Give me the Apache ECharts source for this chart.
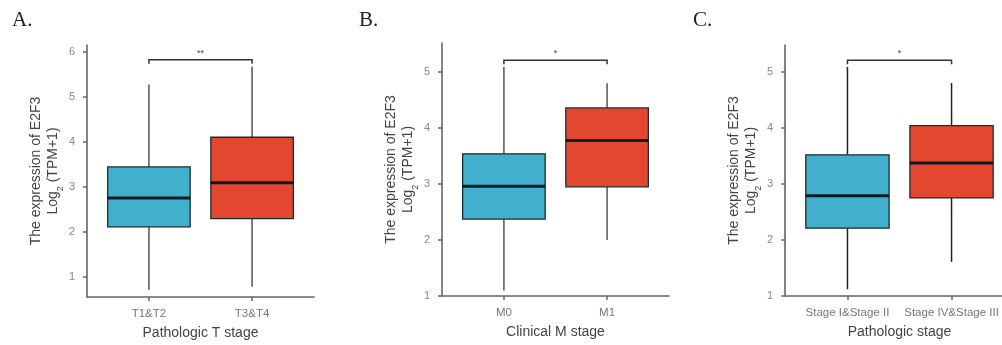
<!DOCTYPE html>
<html>
<head>
<meta charset="utf-8">
<script src="https://cdn.jsdelivr.net/npm/echarts@6/dist/echarts.min.js"></script>
<style>html,body{margin:0;padding:0;background:#fff;}#chart{width:1002px;height:345px;}</style>
</head>
<body>
<div id="chart"></div>
<script>
// ---- data ----
const panelLabels = ['A.', 'B.', 'C.'];
const categoriesA = ['T1&T2', 'T3&T4'];
const categoriesB = ['M0', 'M1'];
const categoriesC = ['Stage I&Stage II', 'Stage IV&Stage III'];
const xTitles = ['Pathologic T stage', 'Clinical M stage', 'Pathologic stage'];
// [lower whisker, Q1, median, Q3, upper whisker]
const boxesA = [[0.71, 2.11, 2.75, 3.44, 5.27], [0.78, 2.29, 3.09, 4.10, 5.67]];
const boxesB = [[1.10, 2.375, 2.96, 3.54, 5.09], [2.00, 2.95, 3.78, 4.36, 4.80]];
const boxesC = [[1.12, 2.21, 2.79, 3.52, 5.09], [1.61, 2.75, 3.375, 4.04, 4.80]];
const sigLevels = [5.82, 5.21, 5.21];
const sigLabels = ['**', '*', '*'];
const yTicksA = [1, 2, 3, 4, 5, 6];
const yTicksB = [1, 2, 3, 4, 5];
const yTicksC = [1, 2, 3, 4, 5];
const yRanges = [[0.55, 6.15], [1.0, 5.52], [1.0, 5.48]];

// ---- styling ----
const boxColors = ['#41B0CC', '#E4472F'];
const sans = 'Liberation Sans, Arial, sans-serif';
const grids = [
  {left: 87, top: 45, width: 227, height: 252, outerBoundsMode: 'none', containLabel: false},
  {left: 442, top: 43, width: 227, height: 253, outerBoundsMode: 'none', containLabel: false},
  {left: 785, top: 45, width: 229, height: 251, outerBoundsMode: 'none', containLabel: false}
];
const nameGaps = [25, 24, 25];
const cats = [categoriesA, categoriesB, categoriesC];
const boxes = [boxesA, boxesB, boxesC];
const yTicks = [yTicksA, yTicksB, yTicksC];
const whiskerColors = ['#555', '#555', '#222'];

const xAxes = [], yAxes = [], series = [], graphics = [];
const gx = [12, 359, 693];
for (let i = 0; i < 3; i++) {
  const c = cats[i];
  xAxes.push({
    type: 'value', gridIndex: i, min: 0.4, max: 2.6,
    axisLine: {show: true, onZero: false, lineStyle: {color: '#666', width: 1.6}},
    axisTick: {show: true, length: 4, customValues: [1, 2], lineStyle: {color: '#666', width: 1.5}},
    axisLabel: {customValues: [1, 2], margin: 11, color: '#777', fontSize: 11.5, fontFamily: sans,
      formatter: v => c[Math.round(v) - 1] || ''},
    splitLine: {show: false},
    name: xTitles[i], nameLocation: 'middle', nameGap: 29,
    nameTextStyle: {color: '#444', fontSize: 14, fontFamily: sans}
  });
  yAxes.push({
    type: 'value', gridIndex: i, min: yRanges[i][0], max: yRanges[i][1],
    axisLine: {show: true, lineStyle: {color: '#666', width: 1.6}},
    axisTick: {show: true, length: 4, customValues: yTicks[i], lineStyle: {color: '#666', width: 1.5}},
    axisLabel: {customValues: yTicks[i], margin: 12, color: '#888', fontSize: 11, fontFamily: sans},
    splitLine: {show: false},
    name: '{a|The expression of E2F3}\n{a|Log}{s|2}{a| (TPM+1)}',
    nameLocation: 'middle', nameRotate: 90, nameGap: nameGaps[i],
    nameTextStyle: {
      color: '#444', fontFamily: sans, lineHeight: 17,
      rich: {
        a: {fontSize: 14, color: '#444', fontFamily: sans, lineHeight: 17},
        s: {fontSize: 9, color: '#444', fontFamily: sans, verticalAlign: 'bottom', lineHeight: 12, padding: [0, 0, -3, 0]}
      }
    }
  });
  const bx = boxes[i];
  series.push({
    type: 'custom', xAxisIndex: i, yAxisIndex: i,
    data: bx.map((b, k) => [k + 1, b[0], b[1], b[2], b[3], b[4]]),
    encode: {x: 0, y: [1, 2, 3, 4, 5]},
    renderItem: (params, api) => {
      const x = api.value(0);
      const lo = api.coord([x, api.value(1)]);
      const q1 = api.coord([x, api.value(2)]);
      const md = api.coord([x, api.value(3)]);
      const q3 = api.coord([x, api.value(4)]);
      const hi = api.coord([x, api.value(5)]);
      const hw = api.size([0.8, 0])[0] / 2;
      const wc = whiskerColors[i];
      return {
        type: 'group',
        children: [
          {type: 'line', shape: {x1: lo[0], y1: lo[1], x2: q1[0], y2: q1[1]}, style: {stroke: wc, lineWidth: 1.5}},
          {type: 'line', shape: {x1: q3[0], y1: q3[1], x2: hi[0], y2: hi[1]}, style: {stroke: wc, lineWidth: 1.5}},
          {type: 'rect', shape: {x: q1[0] - hw, y: q3[1], width: hw * 2, height: q1[1] - q3[1]},
            style: {fill: boxColors[params.dataIndex], stroke: '#1d2a30', lineWidth: 1.3}},
          {type: 'line', shape: {x1: md[0] - hw, y1: md[1], x2: md[0] + hw, y2: md[1]}, style: {stroke: '#0d1a22', lineWidth: 3}}
        ]
      };
    }
  });
  series.push({
    type: 'custom', xAxisIndex: i, yAxisIndex: i,
    data: [[1, 2, sigLevels[i]]],
    encode: {x: [0, 1], y: 2},
    renderItem: (params, api) => {
      const a = api.coord([api.value(0), api.value(2)]);
      const b = api.coord([api.value(1), api.value(2)]);
      return {
        type: 'group',
        children: [
          {type: 'polyline', shape: {points: [[a[0], a[1] + 4], a, b, [b[0], b[1] + 4]]},
            style: {stroke: '#333', lineWidth: 1.5, fill: null}},
          {type: 'text', x: (a[0] + b[0]) / 2, y: a[1] - 2,
            style: {text: sigLabels[i], fill: '#444', font: '9px ' + sans, align: 'center', verticalAlign: 'bottom'}}
        ]
      };
    }
  });
  graphics.push({type: 'text', left: gx[i], top: 10,
    style: {text: panelLabels[i], fill: '#222', font: '21px Liberation Serif, Times New Roman, serif'}});
}

const chart = echarts.init(document.getElementById('chart'), null, {renderer: 'canvas'});
chart.setOption({
  animation: false,
  backgroundColor: '#fff',
  grid: grids,
  xAxis: xAxes,
  yAxis: yAxes,
  series: series,
  graphic: graphics
});
</script>
</body>
</html>
